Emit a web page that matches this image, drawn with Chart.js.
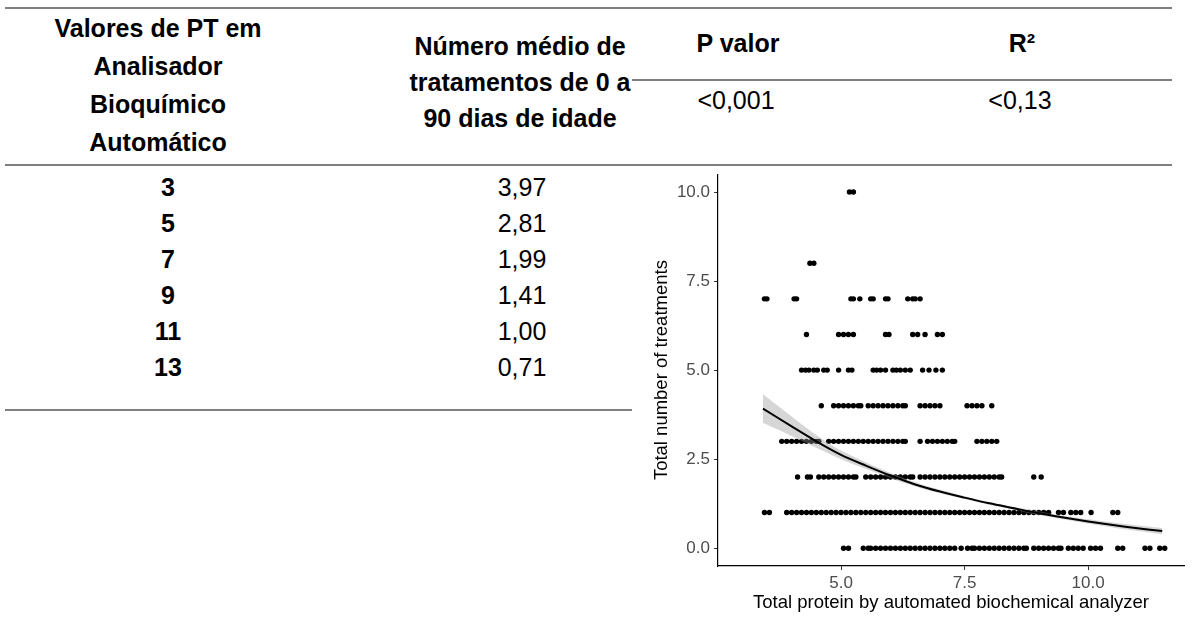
<!DOCTYPE html>
<html>
<head>
<meta charset="utf-8">
<script src="https://cdn.jsdelivr.net/npm/chart.js@4.4.1/dist/chart.umd.min.js"></script>
<style>
  html, body { margin: 0; padding: 0; background: #fff; }
  body { width: 1202px; height: 619px; position: relative; overflow: hidden; font-family: "Liberation Sans", Arial, sans-serif; }
  .t { position: absolute; transform: translate(-50%, -50%); white-space: nowrap; color: #000; font-size: 25px; }
  .b { font-weight: bold; }
  .rule { position: absolute; height: 2px; background: #7f7f7f; }
  #wrap { position: absolute; left: 640px; top: 160px; width: 562px; height: 459px; }
</style>
</head>
<body>
<div class="rule" style="left:5px; width:1167px; top:7px;"></div>
<div class="rule" style="left:632px; width:540px; top:79px;"></div>
<div class="rule" style="left:5px; width:1167px; top:164px;"></div>
<div class="rule" style="left:5px; width:627px; top:409px;"></div>
<div id="table"></div>
<div id="wrap"><canvas id="chart_treatmentsByProtein"></canvas></div>
<script>
// table contents
const headPT = ['Valores de PT em', 'Analisador', 'Bioquímico', 'Automático'];
const headMean = ['Número médio de', 'tratamentos de 0 a', '90 dias de idade'];
const ptValues = ['3', '5', '7', '9', '11', '13'];
const meanTreatments = ['3,97', '2,81', '1,99', '1,41', '1,00', '0,71'];
const statHeads = ['P valor', 'R²'];
const statValues = ['<0,001', '<0,13'];

// scatter: x values (total protein) for each number of treatments
const treat0 = [5.05, 5.15, 5.45, 5.55, 5.6, 5.7, 5.8, 5.9, 6.0, 6.1, 6.2, 6.3, 6.4, 6.5, 6.6, 6.7, 6.8, 6.9, 7.0, 7.1, 7.2, 7.3, 7.43, 7.56, 7.65, 7.7, 7.8, 7.9, 8.0, 8.1, 8.2, 8.3, 8.4, 8.5, 8.6, 8.7, 8.75, 8.9, 9.0, 9.1, 9.2, 9.3, 9.4, 9.45, 9.6, 9.7, 9.8, 9.9, 10.05, 10.15, 10.25, 10.6, 10.7, 11.15, 11.25, 11.45, 11.55];
const treat1 = [3.45, 3.55, 3.9, 4.0, 4.1, 4.2, 4.3, 4.4, 4.5, 4.6, 4.7, 4.8, 4.9, 5.0, 5.1, 5.2, 5.3, 5.4, 5.5, 5.6, 5.7, 5.8, 5.9, 6.0, 6.1, 6.2, 6.3, 6.4, 6.5, 6.6, 6.7, 6.8, 6.9, 7.0, 7.1, 7.2, 7.3, 7.4, 7.5, 7.6, 7.7, 7.8, 7.9, 8.0, 8.1, 8.2, 8.3, 8.4, 8.5, 8.6, 8.7, 8.8, 8.9, 9.0, 9.1, 9.2, 9.4, 9.5, 9.65, 9.75, 9.85, 10.06, 10.5, 10.6];
const treat2 = [4.12, 4.32, 4.38, 4.55, 4.65, 4.75, 4.85, 4.95, 5.05, 5.15, 5.25, 5.3, 5.5, 5.6, 5.7, 5.8, 5.9, 6.0, 6.1, 6.2, 6.3, 6.4, 6.45, 6.6, 6.7, 6.8, 6.9, 7.0, 7.1, 7.2, 7.3, 7.4, 7.5, 7.6, 7.7, 7.8, 7.9, 8.0, 8.1, 8.2, 8.25, 8.9, 9.05];
const treat3 = [3.8, 3.9, 4.0, 4.1, 4.2, 4.3, 4.4, 4.5, 4.55, 4.75, 4.85, 4.95, 5.05, 5.15, 5.25, 5.35, 5.45, 5.55, 5.65, 5.75, 5.85, 5.95, 6.05, 6.15, 6.25, 6.3, 6.6, 6.75, 6.85, 6.95, 7.05, 7.15, 7.25, 7.3, 7.75, 7.85, 7.95, 8.05, 8.15];
const treat4 = [4.6, 4.85, 4.95, 5.05, 5.15, 5.25, 5.35, 5.4, 5.55, 5.65, 5.75, 5.85, 5.95, 6.05, 6.15, 6.25, 6.3, 6.6, 6.7, 6.8, 6.9, 7.0, 7.55, 7.65, 7.75, 7.85, 8.05];
const treat5 = [4.2, 4.28, 4.35, 4.45, 4.52, 4.65, 4.72, 4.95, 5.15, 5.22, 5.65, 5.72, 5.8, 5.9, 6.05, 6.12, 6.2, 6.3, 6.4, 6.65, 6.78, 6.92, 7.05];
const treat6 = [4.3, 4.95, 5.05, 5.15, 5.25, 5.9, 5.97, 6.45, 6.55, 6.7, 6.95, 7.05];
const treat7 = [3.45, 3.5, 4.05, 4.1, 5.2, 5.25, 5.38, 5.6, 5.65, 5.9, 5.95, 6.35, 6.45, 6.5, 6.6];
const treat8 = [4.37, 4.45];
const treat10 = [5.17, 5.25];

// fitted curve and confidence band
const fitX = [3.42, 4.0, 4.5, 5.0, 5.5, 6.0, 6.5, 7.0, 7.5, 8.0, 8.5, 9.0, 9.5, 10.0, 10.5, 11.0, 11.5];
const fitY = [3.92, 3.42, 3.0, 2.62, 2.32, 2.04, 1.79, 1.59, 1.42, 1.26, 1.12, 0.98, 0.86, 0.75, 0.65, 0.56, 0.48];
const fitLow = [3.52, 3.15, 2.82, 2.5, 2.23, 1.97, 1.73, 1.54, 1.38, 1.22, 1.08, 0.93, 0.81, 0.69, 0.58, 0.48, 0.39];
const fitHigh = [4.32, 3.7, 3.18, 2.74, 2.41, 2.11, 1.85, 1.64, 1.46, 1.3, 1.16, 1.03, 0.91, 0.81, 0.72, 0.64, 0.57];

const xTicks = [5.0, 7.5, 10.0];
const yTicks = [0.0, 2.5, 5.0, 7.5, 10.0];

// --- table text
const table = document.getElementById('table');
function put(text, x, y, bold) {
  const d = document.createElement('div');
  d.className = 't' + (bold ? ' b' : '');
  d.style.left = x + 'px';
  d.style.top = y + 'px';
  d.textContent = text;
  table.appendChild(d);
}
headPT.forEach((s, i) => put(s, 158, 28 + i * 38, true));
headMean.forEach((s, i) => put(s, 520, 46 + i * 36, true));
put(statHeads[0], 738, 43, true);
put(statHeads[1], 1022, 43, true);
put(statValues[0], 736, 100, false);
put(statValues[1], 1020, 100, false);
ptValues.forEach((s, i) => put(s, 168, 187 + i * 36, true));
meanTreatments.forEach((s, i) => put(s, 522, 187 + i * 36, false));

// --- scatter chart
const rows = [[0, treat0], [1, treat1], [2, treat2], [3, treat3], [4, treat4], [5, treat5], [6, treat6], [7, treat7], [8, treat8], [10, treat10]];
const points = [];
rows.forEach(([n, xs]) => xs.forEach(x => points.push({ x: x, y: n })));
const pairs = (xs, ys) => xs.map((x, i) => ({ x: x, y: ys[i] }));

var chart_treatmentsByProtein = new Chart(document.getElementById('chart_treatmentsByProtein'), {
    type: 'scatter',
    data: {
        datasets: [
            {
                label: 'animals',
                data: points,
                pointRadius: 2.7,
                pointBackgroundColor: '#000',
                pointBorderWidth: 0,
                order: 3
            },
            {
                label: 'low',
                type: 'line',
                data: pairs(fitX, fitLow),
                borderWidth: 0,
                pointRadius: 0,
                fill: false,
                tension: 0.3,
                order: 2
            },
            {
                label: 'high',
                type: 'line',
                data: pairs(fitX, fitHigh),
                borderWidth: 0,
                pointRadius: 0,
                fill: '-1',
                backgroundColor: 'rgba(153,153,153,0.4)',
                tension: 0.3,
                order: 2
            },
            {
                label: 'fit',
                type: 'line',
                data: pairs(fitX, fitY),
                borderColor: '#000',
                borderWidth: 2,
                pointRadius: 0,
                fill: false,
                tension: 0.3,
                order: 1
            }
        ]
    },
    options: {
        animation: false,
        responsive: true,
        maintainAspectRatio: false,
        layout: { padding: { top: 12, right: 18, left: 0, bottom: 0 } },
        plugins: {
            legend: { display: false },
            tooltip: { enabled: false }
        },
        scales: {
            x: {
                type: 'linear',
                min: 2.51,
                max: 11.94,
                afterBuildTicks: s => { s.ticks = xTicks.map(v => ({ value: v })); },
                afterFit: s => { s.height = 53; },
                ticks: {
                    color: '#4d4d4d',
                    padding: 3,
                    font: { family: 'Liberation Sans', size: 17 },
                    callback: v => v.toFixed(1)
                },
                grid: { drawOnChartArea: false, tickLength: 4, color: '#333' },
                border: { display: true, color: '#000', width: 1.2 },
                title: {
                    display: true,
                    text: 'Total protein by automated biochemical analyzer',
                    color: '#000',
                    font: { family: 'Liberation Sans', size: 18.5 },
                    padding: { top: 0, bottom: 5 }
                }
            },
            y: {
                type: 'linear',
                min: -0.5,
                max: 10.5,
                afterBuildTicks: s => { s.ticks = yTicks.map(v => ({ value: v })); },
                afterFit: s => { s.width = 78; },
                ticks: {
                    color: '#4d4d4d',
                    padding: 4,
                    font: { family: 'Liberation Sans', size: 17 },
                    callback: v => v.toFixed(1)
                },
                grid: { drawOnChartArea: false, tickLength: 4, color: '#333' },
                border: { display: true, color: '#000', width: 1.2 },
                title: {
                    display: true,
                    text: 'Total number of treatments',
                    color: '#000',
                    font: { family: 'Liberation Sans', size: 18.5 },
                    padding: { top: 11, bottom: 0 }
                }
            }
        }
    }
});
</script>
</body>
</html>
